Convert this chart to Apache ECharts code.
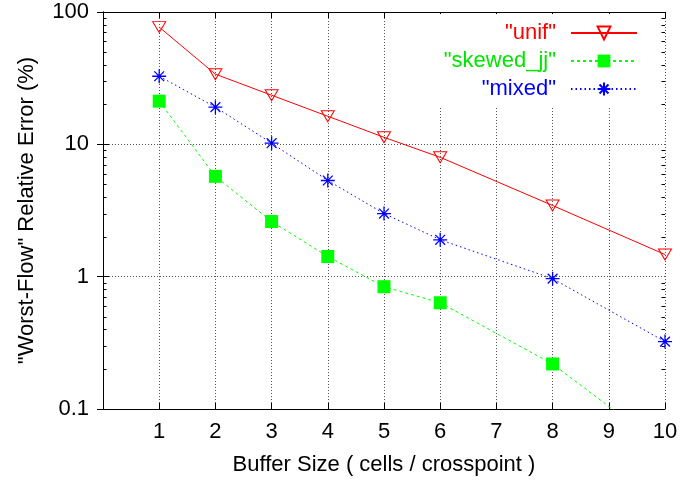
<!DOCTYPE html>
<html><head><meta charset="utf-8">
<script src="https://cdn.jsdelivr.net/npm/echarts@6/dist/echarts.min.js"></script>
<style>html,body{margin:0;padding:0;background:#fff}#c{width:699px;height:484px}</style>
</head><body><div id="c"></div>
<script>
const bufferSizes = [1, 2, 3, 4, 5, 6, 8, 10];
const unifValues = [76.9, 33.9, 23.5, 16.3, 11.3, 7.98, 3.45, 1.47];
const skewedValues = [21.2, 5.73, 2.61, 1.42, 0.84, 0.635, 0.219, 0.05];
const mixedValues = [32.7, 19.1, 10.2, 5.33, 3.0, 1.9, 0.966, 0.323];
const seriesNames = ['"unif"', '"skewed_jj"', '"mixed"'];
const xTickLabels = ['', '1', '2', '3', '4', '5', '6', '7', '8', '9', '10'];
const minorTicks = [0.2,0.3,0.4,0.5,0.6,0.7,0.8,0.9,2,3,4,5,6,7,8,9,20,30,40,50,60,70,80,90];

const FONT = 'Liberation Sans';
const FS = 22;
const pair = (vals) => bufferSizes.map((x, i) => [x, vals[i]]);
const chart = echarts.init(document.getElementById('c'));
const gridLine = {show: true, lineStyle: {color: '#555', type: [1, 2], width: 1}};
chart.setOption({
  animation: false,
  backgroundColor: '#fff',
  textStyle: {fontFamily: FONT},
  grid: {left: 103, top: 12, right: 34, bottom: 75, show: false},
  legend: {
    orient: 'vertical', align: 'right', right: 39, top: 14,
    padding: [8, 22, 6, 12], itemGap: 6, itemWidth: 66, itemHeight: 16,
    backgroundColor: '#fff',
    textStyle: {fontFamily: FONT, fontSize: FS, padding: [0, 10, 0, 0]},
    data: [
      {name: seriesNames[0], textStyle: {color: '#ff0000'}},
      {name: seriesNames[1], textStyle: {color: '#00e600'}},
      {name: seriesNames[2], textStyle: {color: '#0000ff'}}
    ]
  },
  xAxis: [{
    type: 'value', min: 0, max: 10, interval: 1,
    axisLine: {show: true, lineStyle: {color: '#000', width: 1}},
    axisTick: {show: true, inside: true, length: 6, lineStyle: {color: '#000'}},
    axisLabel: {fontSize: FS, color: '#000', margin: 12, fontFamily: FONT,
      formatter: (v) => xTickLabels[Math.round(v)] || ''},
    splitLine: gridLine,
    name: 'Buffer Size ( cells / crosspoint )', nameLocation: 'middle', nameGap: 45,
    nameTextStyle: {fontSize: FS, color: '#000', fontFamily: FONT}
  }, {
    type: 'value', min: 0, max: 10, interval: 1, position: 'top',
    axisLine: {show: true, lineStyle: {color: '#000', width: 1}},
    axisTick: {show: true, inside: true, length: 6, lineStyle: {color: '#000'}},
    axisLabel: {show: false}, splitLine: {show: false}
  }],
  yAxis: [{
    type: 'log', logBase: 10, min: 0.1, max: 100,
    axisLine: {show: true, lineStyle: {color: '#000', width: 1}},
    axisTick: {show: true, inside: true, length: 6, lineStyle: {color: '#000'}},
    axisLabel: {fontSize: FS, color: '#000', margin: 14, fontFamily: FONT,
      formatter: (v) => String(+v.toPrecision(3))},
    splitLine: gridLine,
    name: '"Worst-Flow" Relative Error (%)', nameLocation: 'middle', nameGap: 65,
    nameTextStyle: {fontSize: FS, color: '#000', fontFamily: FONT}
  }, {
    type: 'log', logBase: 10, min: 0.1, max: 100, position: 'right',
    axisLine: {show: true, lineStyle: {color: '#000', width: 1}},
    axisTick: {show: true, inside: true, length: 6, lineStyle: {color: '#000'}},
    axisLabel: {show: false}, splitLine: {show: false}
  }],
  series: [{
    name: seriesNames[0], type: 'line', data: pair(unifValues), clip: true,
    symbol: 'triangle', symbolRotate: 180, symbolSize: [13, 11], showAllSymbol: true,
    color: '#ff0000',
    lineStyle: {color: '#ff0000', width: 1, type: 'solid'},
    itemStyle: {color: 'rgba(0,0,0,0)', borderColor: '#ff0000', borderWidth: 1}
  }, {
    name: seriesNames[1], type: 'line', data: pair(skewedValues), clip: true,
    symbol: 'rect', symbolSize: 13, showAllSymbol: true,
    color: '#00ff00',
    lineStyle: {color: '#00ff00', width: 1, type: [3, 3]},
    itemStyle: {color: '#00ff00', borderWidth: 0}
  }, {
    name: seriesNames[2], type: 'line', data: pair(mixedValues), clip: true,
    symbol: 'path://M6,0L6,12M0,6L12,6M1.8,1.8L10.2,10.2M1.8,10.2L10.2,1.8', symbolSize: 14, showAllSymbol: true,
    color: '#0000ff',
    lineStyle: {color: '#0000ff', width: 1, type: [1.5, 3]},
    itemStyle: {color: 'rgba(0,0,0,0)', borderColor: '#0000ff', borderWidth: 1.3}
  }, {
    type: 'custom', silent: true, z: 3,
    data: minorTicks.map(v => [0, v]),
    renderItem: function (params, api) {
      const p0 = api.coord([0, api.value(1)]);
      const p1 = api.coord([10, api.value(1)]);
      const y = Math.round(p0[1]) + 0.5;
      return {type: 'group', children: [
        {type: 'line', shape: {x1: p0[0], y1: y, x2: p0[0] + 3.5, y2: y}, style: {stroke: '#000', lineWidth: 1}},
        {type: 'line', shape: {x1: p1[0] - 3.5, y1: y, x2: p1[0], y2: y}, style: {stroke: '#000', lineWidth: 1}}
      ]};
    }
  }]
});
</script></body></html>
